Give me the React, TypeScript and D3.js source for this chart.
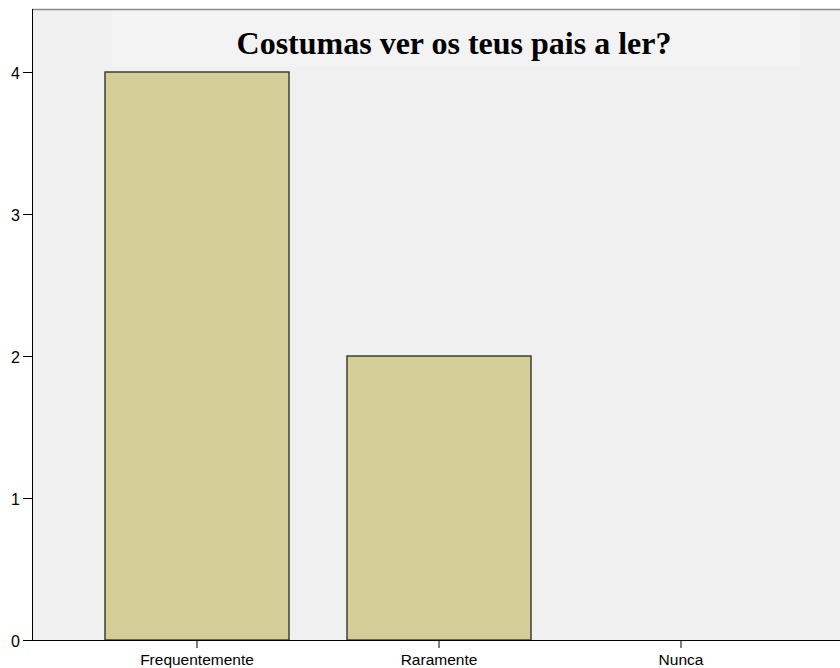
import React from "react";
import * as d3 from "d3";

const categories = ["Frequentemente", "Raramente", "Nunca"];
const counts = [4, 2, 0];
const yTicks = [0, 1, 2, 3, 4];
const title = "Costumas ver os teus pais a ler?";

export default function App() {
  const W = 840, H = 668;
  const left = 32, top = 9, bottom = 640;
  const x = d3.scaleBand<string>().domain(categories).range([76, 802]).padding(0);
  const y = d3.scaleLinear().domain([0, 4]).range([bottom, 72]);
  const bw = 184;
  return (
    <svg width={W} height={H} style={{ position: "absolute", left: 0, top: 0 }}>
      <rect x={0} y={0} width={W} height={H} fill="#ffffff" />
      <rect x={left} y={top} width={W - left + 10} height={bottom - top} fill="#f0f0f0" />
      <rect x={112} y={10} width={688} height={57} fill="#f3f3f3" />
      <line x1={left} x2={W} y1={top + 0.5} y2={top + 0.5} stroke="#8a8a8a" strokeWidth={1.5} />
      <text x={454} y={54} textAnchor="middle" fontFamily="'Liberation Serif', 'Times New Roman', serif" fontWeight="bold" fontSize={32} fill="#000">
        {title}
      </text>
      {categories.map((c, i) => {
        const cx = x(c)! + x.bandwidth() / 2;
        const v = counts[i];
        return v > 0 ? (
          <rect key={c} x={cx - bw / 2} y={y(v)} width={bw} height={y(0) - y(v)} fill="#d3ce98" stroke="#3f3f33" strokeWidth={1.5} />
        ) : null;
      })}
      <line x1={left + 0.5} x2={left + 0.5} y1={top} y2={bottom} stroke="#000" strokeWidth={1} />
      <line x1={left} x2={W} y1={bottom + 0.5} y2={bottom + 0.5} stroke="#000" strokeWidth={1} />
      {yTicks.map((t) => (
        <g key={t}>
          <line x1={left - 9} x2={left} y1={y(t) + 0.5} y2={y(t) + 0.5} stroke="#000" />
          <text x={left - 12} y={y(t) + 7} textAnchor="end" fontFamily="'Liberation Sans', Arial, sans-serif" fontSize={16} fill="#000">
            {t}
          </text>
        </g>
      ))}
      {categories.map((c) => {
        const cx = x(c)! + x.bandwidth() / 2;
        return (
          <g key={c}>
            <line x1={cx} x2={cx} y1={bottom} y2={bottom + 8} stroke="#000" />
            <text x={cx} y={665} textAnchor="middle" fontFamily="'Liberation Sans', Arial, sans-serif" fontSize={15.5} fill="#000">
              {c}
            </text>
          </g>
        );
      })}
    </svg>
  );
}
